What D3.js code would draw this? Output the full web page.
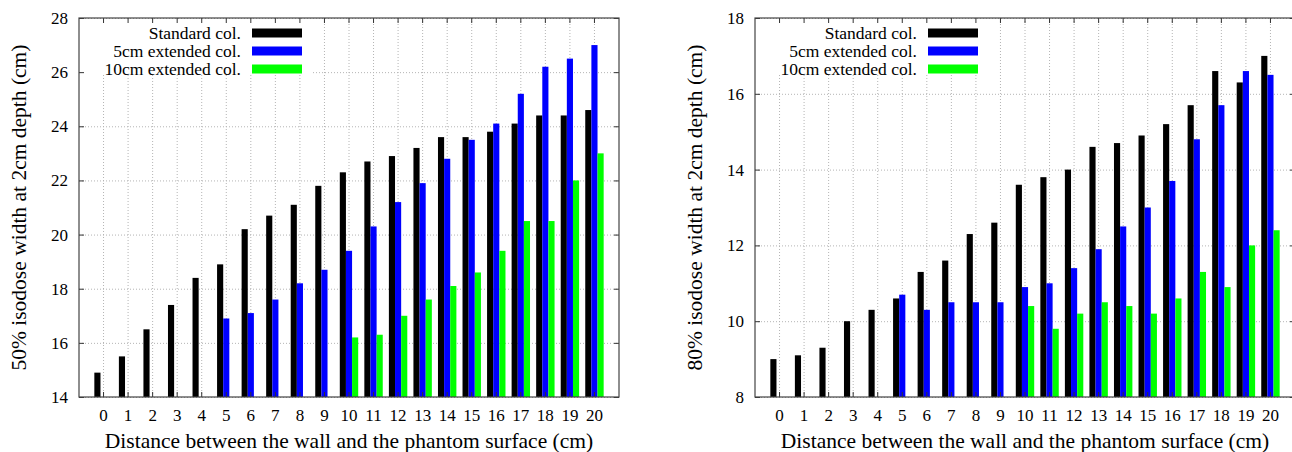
<!DOCTYPE html>
<html>
<head>
<meta charset="utf-8">
<script src="https://cdn.jsdelivr.net/npm/d3@7"></script>
<style>
  html, body { margin: 0; padding: 0; background: #fff; }
</style>
</head>
<body>
<div class="chart"></div>
<script>
// distance between wall and phantom surface (cm)
const categories = ['0', '1', '2', '3', '4', '5', '6', '7', '8', '9', '10',
    '11', '12', '13', '14', '15', '16', '17', '18', '19', '20']
const seriesNames = ['Standard col.', '5cm extended col.', '10cm extended col.']
const seriesColors = ['#000000', '#0000ff', '#00ff00']

// 50% isodose width at 2cm depth (cm)
const std50 = [14.9, 15.5, 16.5, 17.4, 18.4, 18.9, 20.2, 20.7, 21.1, 21.8, 22.3,
    22.7, 22.9, 23.2, 23.6, 23.6, 23.8, 24.1, 24.4, 24.4, 24.6]
const ext5cm50 = [null, null, null, null, null, 16.9, 17.1, 17.6, 18.2, 18.7, 19.4,
    20.3, 21.2, 21.9, 22.8, 23.5, 24.1, 25.2, 26.2, 26.5, 27.0]
const ext10cm50 = [null, null, null, null, null, null, null, null, null, null, 16.2,
    16.3, 17.0, 17.6, 18.1, 18.6, 19.4, 20.5, 20.5, 22.0, 23.0]
const yTicks50 = [14, 16, 18, 20, 22, 24, 26, 28]

// 80% isodose width at 2cm depth (cm)
const std80 = [9.0, 9.1, 9.3, 10.0, 10.3, 10.6, 11.3, 11.6, 12.3, 12.6, 13.6,
    13.8, 14.0, 14.6, 14.7, 14.9, 15.2, 15.7, 16.6, 16.3, 17.0]
const ext5cm80 = [null, null, null, null, null, 10.7, 10.3, 10.5, 10.5, 10.5, 10.9,
    11.0, 11.4, 11.9, 12.5, 13.0, 13.7, 14.8, 15.7, 16.6, 16.5]
const ext10cm80 = [null, null, null, null, null, null, null, null, null, null, 10.4,
    9.8, 10.2, 10.5, 10.4, 10.2, 10.6, 11.3, 10.9, 12.0, 12.4]
const yTicks80 = [8, 10, 12, 14, 16, 18]

const xTitle = 'Distance between the wall and the phantom surface (cm)'
const FONT = '"Liberation Serif", "Times New Roman", serif'

const W = 1292, H = 452
const plotTop = 18, plotBottom = 397, plotW = 540

let svg = d3.select('.chart')
    .append('svg')
    .attr('width', W)
    .attr('height', H)
    .style('font-family', FONT)

function drawPanel(x0, series, yTicks, yTitle) {
    let g = svg.append('g')

    let x = d3.scaleBand()
        .domain(categories)
        .range([x0, x0 + plotW])
        .paddingInner(0)
        .paddingOuter(0.5)
    let xSub = d3.scaleBand()
        .domain(d3.range(series.length))
        .range([0, x.bandwidth()])
        .paddingInner(0)
        .paddingOuter(0.5)
    let y = d3.scaleLinear()
        .domain([yTicks[0], yTicks[yTicks.length - 1]])
        .range([plotBottom, plotTop])

    // dotted grid
    let grid = g.append('g').attr('class', 'grid')
    grid.append('g')
        .attr('transform', `translate(0,${plotBottom})`)
        .call(d3.axisBottom(x).tickSize(-(plotBottom - plotTop)).tickFormat(''))
    grid.append('g')
        .attr('transform', `translate(${x0},0)`)
        .call(d3.axisLeft(y).tickValues(yTicks).tickSize(-plotW).tickFormat(''))
    grid.selectAll('.domain').remove()
    grid.selectAll('line')
        .attr('stroke', '#b4b4b4')
        .attr('stroke-width', 1)
        .attr('stroke-dasharray', '1,2')

    // opaque key box
    g.append('rect')
        .attr('x', x0 + 1)
        .attr('y', plotTop + 1)
        .attr('width', 232)
        .attr('height', 56)
        .attr('fill', '#fff')

    // bars
    series.forEach((vals, j) => {
        g.append('g')
            .selectAll('rect')
            .data(categories.map((c, i) => ({ c: c, v: vals[i] })).filter(d => d.v != null))
            .join('rect')
            .attr('x', d => x(d.c) + xSub(j))
            .attr('y', d => y(d.v))
            .attr('width', xSub.bandwidth())
            .attr('height', d => y(yTicks[0]) - y(d.v))
            .attr('fill', seriesColors[j])
    })

    // ticks, inward on all four sides
    let ax = g.append('g').attr('class', 'axes')
    ax.append('g')
        .attr('transform', `translate(0,${plotBottom})`)
        .call(d3.axisBottom(x).tickSizeInner(-5).tickSizeOuter(0).tickPadding(12))
    ax.append('g')
        .attr('transform', `translate(0,${plotTop})`)
        .call(d3.axisTop(x).tickSizeInner(-5).tickSizeOuter(0).tickFormat(''))
    ax.append('g')
        .attr('transform', `translate(${x0},0)`)
        .call(d3.axisLeft(y).tickValues(yTicks).tickSizeInner(-5).tickSizeOuter(0).tickPadding(11))
    ax.append('g')
        .attr('transform', `translate(${x0 + plotW},0)`)
        .call(d3.axisRight(y).tickValues(yTicks).tickSizeInner(-5).tickSizeOuter(0).tickFormat(''))
    ax.selectAll('.domain').remove()
    ax.selectAll('line').attr('stroke', '#333')
    ax.selectAll('g').attr('font-family', null).attr('font-size', null)
    ax.selectAll('text')
        .style('font-family', FONT)
        .style('font-size', '17px')
        .attr('fill', '#000')

    g.append('rect')
        .attr('x', x0)
        .attr('y', plotTop)
        .attr('width', plotW)
        .attr('height', plotBottom - plotTop)
        .attr('fill', 'none')
        .attr('stroke', '#444')
        .attr('stroke-width', 1.2)

    // key
    series.forEach((vals, j) => {
        let cy = plotTop + 15 + j * 18
        g.append('text')
            .attr('x', x0 + 162)
            .attr('y', cy)
            .attr('dy', '0.35em')
            .attr('text-anchor', 'end')
            .style('font-family', FONT)
            .style('font-size', '17.5px')
            .text(seriesNames[j])
        g.append('rect')
            .attr('x', x0 + 173)
            .attr('y', cy - 4.5)
            .attr('width', 50)
            .attr('height', 9)
            .attr('fill', seriesColors[j])
    })

    // axis titles
    g.append('text')
        .attr('x', x0 + plotW / 2)
        .attr('y', 448)
        .attr('text-anchor', 'middle')
        .style('font-family', FONT)
        .style('font-size', '21.5px')
        .text(xTitle)
    g.append('text')
        .attr('transform', `translate(${x0 - 53},${(plotTop + plotBottom) / 2}) rotate(-90)`)
        .attr('text-anchor', 'middle')
        .style('font-family', FONT)
        .style('font-size', '21.5px')
        .text(yTitle)
}

drawPanel(79, [std50, ext5cm50, ext10cm50], yTicks50, '50% isodose width at 2cm depth (cm)')
drawPanel(755, [std80, ext5cm80, ext10cm80], yTicks80, '80% isodose width at 2cm depth (cm)')
</script>
</body>
</html>
